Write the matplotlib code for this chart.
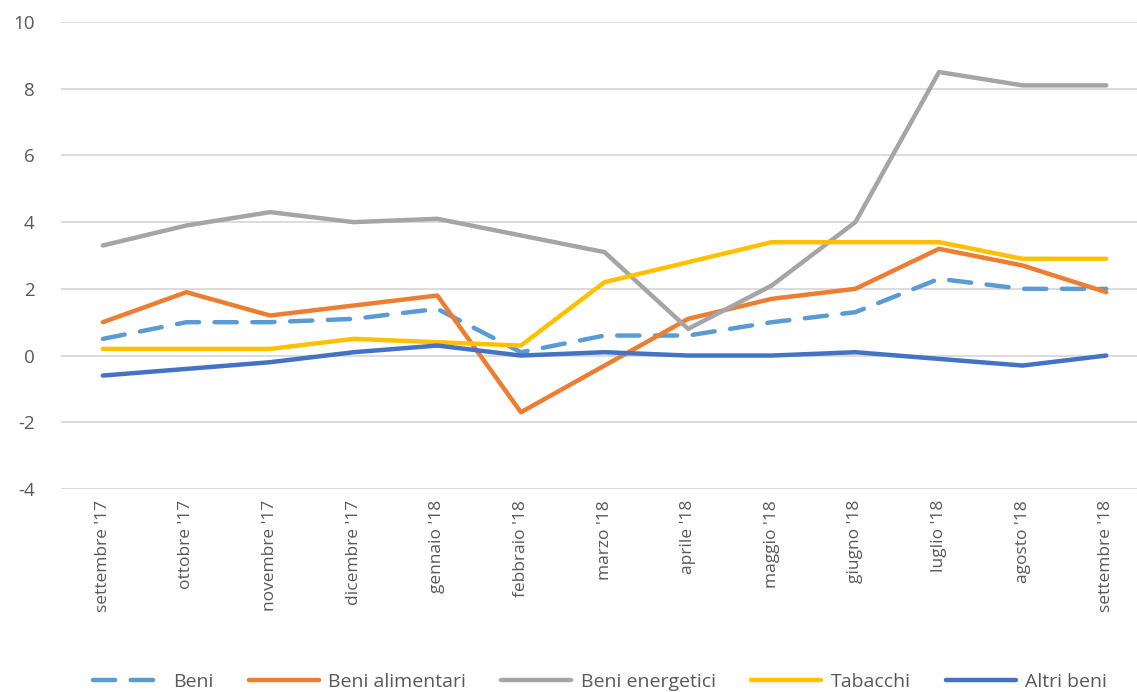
import numpy as np
import matplotlib.pyplot as plt

mesi = ["settembre '17", "ottobre '17", "novembre '17", "dicembre '17", "gennaio '18",
        "febbraio '18", "marzo '18", "aprile '18", "maggio '18", "giugno '18",
        "luglio '18", "agosto '18", "settembre '18"]
beni = [0.5, 1.0, 1.0, 1.1, 1.4, 0.1, 0.6, 0.6, 1.0, 1.3, 2.3, 2.0, 2.0]
beni_alimentari = [1.0, 1.9, 1.2, 1.5, 1.8, -1.7, -0.3, 1.1, 1.7, 2.0, 3.2, 2.7, 1.9]
beni_energetici = [3.3, 3.9, 4.3, 4.0, 4.1, 3.6, 3.1, 0.8, 2.1, 4.0, 8.5, 8.1, 8.1]
tabacchi = [0.2, 0.2, 0.2, 0.5, 0.4, 0.3, 2.2, 2.8, 3.4, 3.4, 3.4, 2.9, 2.9]
altri_beni = [-0.6, -0.4, -0.2, 0.1, 0.3, 0.0, 0.1, 0.0, 0.0, 0.1, -0.1, -0.3, 0.0]

plt.rcParams['font.family'] = ['Open Sans', 'DejaVu Sans']
plt.rcParams['axes.unicode_minus'] = False

fig = plt.figure(figsize=(11.37, 6.92), dpi=100)
ax = fig.add_axes([0.0537, 0.2934, 0.956, 0.6748])
x = np.arange(len(mesi))
lw = 3.2
ax.plot(x, beni, color='#5B9BD5', lw=lw, dashes=(5, 3.5), dash_capstyle='round', label='Beni', zorder=3)
ax.plot(x, beni_alimentari, color='#ED7D31', lw=lw, solid_capstyle='round', label='Beni alimentari', zorder=3)
ax.plot(x, beni_energetici, color='#A5A5A5', lw=lw, solid_capstyle='round', label='Beni energetici', zorder=3)
ax.plot(x, tabacchi, color='#FFC000', lw=lw, solid_capstyle='round', label='Tabacchi', zorder=3)
ax.plot(x, altri_beni, color='#4472C4', lw=lw, solid_capstyle='round', label='Altri beni', zorder=3)

ax.set_xlim(-0.5, len(mesi) - 0.5)
ax.set_ylim(-4, 10)
ax.set_yticks(np.arange(-4, 11, 2))
ax.set_xticks(x)
ax.set_xticklabels(mesi, rotation=90)
ax.grid(axis='y', color='#D9D9D9', lw=1.3)
ax.set_axisbelow(True)
for s in ax.spines.values():
    s.set_visible(False)
ax.tick_params(axis='both', length=0, colors='#595959')
ax.tick_params(axis='x', pad=8, labelsize=12.5)
ax.tick_params(axis='y', pad=19, labelsize=13.5)

leg = fig.legend(loc='lower center', bbox_to_anchor=(0.528, -0.024), ncol=5, frameon=False,
                 fontsize=14, handlelength=3.6, columnspacing=1.8, handletextpad=0.5)
for t in leg.get_texts():
    t.set_color('#595959')

fig.savefig('out.png', dpi=100)
